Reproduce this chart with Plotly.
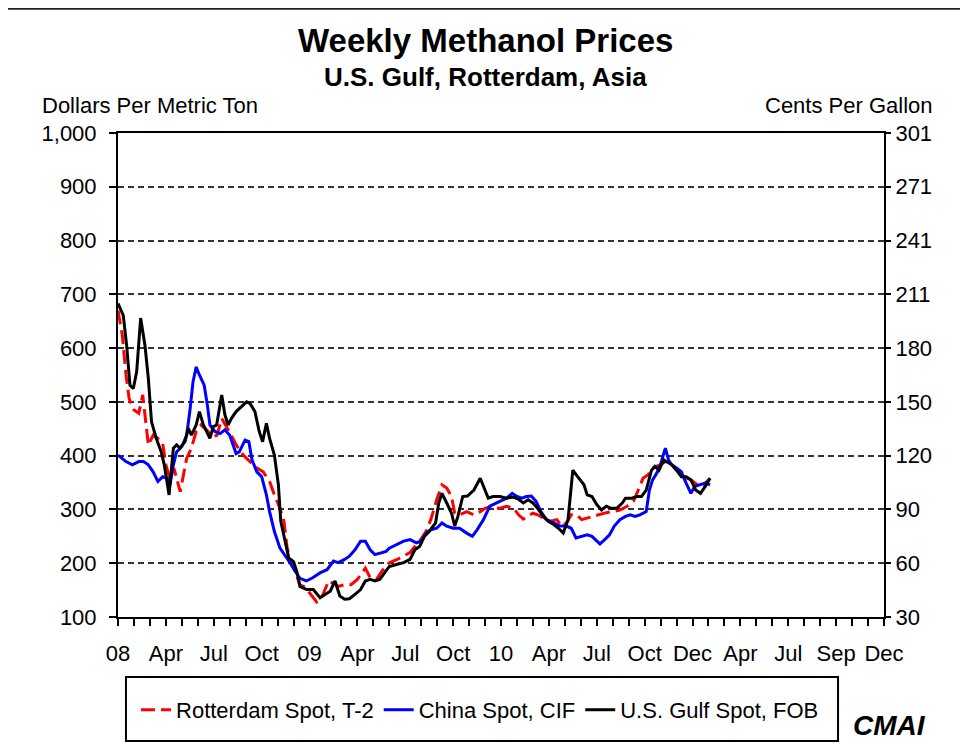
import plotly.graph_objects as go

# ---- Data (x = months since Jan 2008) ----
gulf_months = [0, 0.33, 0.54, 0.75, 0.96, 1.17, 1.42, 1.69, 1.9, 2.1, 2.4, 2.7, 2.9, 3.2, 3.47, 3.67, 3.88,
               4.2, 4.4, 4.6, 4.9, 5.1, 5.35, 5.55, 5.76, 5.97, 6.18, 6.5, 6.7, 6.9, 7.1, 7.4, 7.75, 8.06,
               8.27, 8.58, 8.85, 9.06, 9.3, 9.5, 9.8, 10.05, 10.2, 10.5, 10.7, 11.0, 11.2, 11.4, 11.82,
               12.24, 12.66, 12.97, 13.3, 13.6, 13.9, 14.2, 14.5, 14.85, 15.2, 15.5, 15.8, 16.1, 16.4,
               16.7, 17.0, 17.5, 17.9, 18.3, 18.6, 18.9, 19.2, 19.5, 19.9, 20.1, 20.3, 20.6, 20.9, 21.1,
               21.3, 21.6, 21.9, 22.3, 22.7, 22.9, 23.2, 23.5, 23.93, 24.35, 24.77, 25.1, 25.4, 25.7,
               26.0, 26.3, 26.65, 26.96, 27.3, 27.6, 27.9, 28.2, 28.5, 28.8, 29.2, 29.4, 29.7, 30.0,
               30.3, 30.6, 30.9, 31.25, 31.6, 31.8, 32.2, 32.5, 32.8, 33.1, 33.43, 33.65, 33.9, 34.2,
               34.4, 34.7, 35.0, 35.3, 35.6, 35.9, 36.2, 36.5, 36.8, 37.1]
gulf_values = [683, 661, 605, 531, 525, 556, 656, 605, 544, 463, 432, 408, 383, 327, 414, 420, 414,
               426, 451, 438, 457, 482, 457, 445, 432, 454, 457, 513, 476, 457, 469, 482, 491, 500,
               497, 482, 445, 426, 460, 432, 401, 346, 278, 234, 210, 203, 185, 157, 151,
               151, 136, 142, 148, 167, 139, 133, 134, 142, 151, 167, 170, 167, 170,
               182, 194, 198, 201, 207, 225, 231, 250, 259, 275, 312, 330, 312, 293, 269,
               287, 324, 325, 336, 358, 343, 321, 324, 324, 321, 323, 319, 312, 318,
               312, 302, 287, 278, 272, 265, 256, 281, 373, 361, 346, 327, 324, 309,
               299, 306, 302, 302, 312, 321, 321, 324, 324, 336, 373, 380, 373, 392,
               389, 383, 373, 361, 361, 355, 336, 330, 343, 358]

rotterdam_months = [0, 0.27, 0.5, 0.7, 1.0, 1.3, 1.55, 1.7, 1.9, 2.2, 2.5, 2.8, 3.0, 3.25, 3.5, 3.9, 4.1,
                    4.3, 4.6, 4.9, 5.2, 5.55, 5.9, 6.2, 6.5, 6.8, 7.1, 7.4, 7.85, 8.27, 8.7, 9.1, 9.5,
                    9.8, 10.15, 10.4, 10.6, 10.8, 11.1, 11.4, 11.8, 12.0, 12.45, 12.8, 13.2, 13.5, 13.8,
                    14.2, 14.6, 15.0, 15.5, 15.8, 16.2, 16.6, 17.0, 17.5, 17.9, 18.3, 18.6, 18.9, 19.3,
                    19.6, 19.97, 20.3, 20.6, 20.9, 21.1, 21.4, 21.85, 22.3, 22.7, 23.0, 23.4, 23.9,
                    24.35, 24.8, 25.1, 25.4, 25.7, 26.0, 26.3, 26.65, 27.1, 27.5, 27.8, 28.1, 28.4,
                    28.75, 29.05, 29.4, 29.8, 30.2, 30.6, 31.0, 31.45, 31.9, 32.3, 32.6, 32.9, 33.2,
                    33.5, 33.96, 34.3, 34.6, 35.0, 35.45, 35.9, 36.3, 36.7, 37.1]
rotterdam_values = [670, 624, 550, 506, 485, 479, 513, 469, 420, 438, 432, 423, 383, 358, 377, 333, 364,
                    395, 414, 445, 457, 448, 435, 438, 469, 454, 438, 420, 401, 389, 377, 370, 352,
                    327, 302, 278, 228, 203, 185, 160, 154, 145, 128, 139, 167, 162, 157,
                    160, 160, 170, 191, 173, 170, 188, 201, 207, 213, 220, 231, 241, 259,
                    281, 318, 346, 340, 324, 293, 290, 296, 290, 296, 302, 306, 302,
                    306, 302, 290, 282, 288, 293, 290, 284, 278, 281, 269, 275, 290,
                    290, 281, 284, 287, 290, 294, 296, 299, 306, 315, 336, 358, 364,
                    377, 383, 389, 386, 373, 361, 355, 346, 346, 358]

china_months = [0, 0.5, 0.9, 1.3, 1.6, 1.9, 2.2, 2.5, 2.8, 3.1, 3.26, 3.47, 3.67, 4.0, 4.3, 4.5, 4.7,
                4.9, 5.1, 5.4, 5.6, 5.76, 6.07, 6.4, 6.7, 7.0, 7.4, 7.6, 7.96, 8.2, 8.4, 8.7, 9.0,
                9.3, 9.5, 9.8, 10.15, 10.45, 10.8, 11.1, 11.4, 11.8, 12.2, 12.66, 13.1, 13.5, 13.8,
                14.2, 14.5, 14.85, 15.2, 15.5, 15.8, 16.1, 16.5, 16.8, 17.0, 17.5, 17.9, 18.3, 18.7,
                19.0, 19.3, 19.6, 19.97, 20.3, 20.6, 21.0, 21.4, 21.85, 22.2, 22.5, 22.9, 23.3, 23.7,
                24.1, 24.35, 24.7, 25.0, 25.3, 25.6, 25.9, 26.2, 26.5, 26.85, 27.3, 27.7, 28.1, 28.4,
                28.7, 29.05, 29.4, 29.7, 30.0, 30.2, 30.5, 30.8, 31.1, 31.45, 31.8, 32.1, 32.4, 32.7,
                33.1, 33.3, 33.5, 33.75, 33.96, 34.1, 34.3, 34.5, 34.7, 35.0, 35.3, 35.6, 35.9, 36.15,
                36.5, 36.8, 37.1]
china_values = [401, 389, 383, 389, 389, 383, 370, 352, 361, 358, 346, 383, 407, 417, 438, 482, 537,
                565, 550, 531, 494, 457, 445, 441, 448, 438, 404, 407, 429, 426, 392, 370, 361,
                327, 296, 259, 228, 216, 200, 185, 172, 167, 173, 182, 188, 204, 201,
                207, 213, 225, 241, 241, 225, 216, 219, 222, 228, 235, 241, 244, 238,
                241, 256, 262, 265, 275, 269, 265, 265, 256, 250, 262, 281, 306, 312,
                318, 321, 330, 324, 321, 324, 325, 315, 296, 281, 275, 269, 269, 265,
                247, 250, 253, 250, 241, 236, 244, 253, 269, 281, 287, 290, 287, 290,
                296, 336, 355, 367, 380, 395, 414, 392, 383, 377, 370, 349, 330, 343,
                346, 349, 346]

x_tick_months = [0, 3, 6, 9, 12, 15, 18, 21, 24, 27, 30, 33, 36, 39, 42, 45, 48]
x_tick_labels = ["08", "Apr", "Jul", "Oct", "09", "Apr", "Jul", "Oct", "10", "Apr", "Jul", "Oct",
                 "Dec", "Apr", "Jul", "Sep", "Dec"]
y_ticks = [100, 200, 300, 400, 500, 600, 700, 800, 900, 1000]
y_right_labels = ["30", "60", "90", "120", "150", "180", "211", "241", "271", "301"]

FONT = "Liberation Sans, Arial, sans-serif"
FS = 22

fig = go.Figure()
fig.add_trace(go.Scatter(x=rotterdam_months, y=rotterdam_values, mode="lines",
                         name="Rotterdam Spot, T-2",
                         line=dict(color="#ff0000", width=3, dash="14px,6px")))
fig.add_trace(go.Scatter(x=china_months, y=china_values, mode="lines",
                         name="China Spot, CIF",
                         line=dict(color="#0000ff", width=3)))
fig.add_trace(go.Scatter(x=gulf_months, y=gulf_values, mode="lines",
                         name="U.S. Gulf Spot, FOB",
                         line=dict(color="#000000", width=3)))
# invisible trace to activate right axis
fig.add_trace(go.Scatter(x=[0], y=[100], yaxis="y2", mode="markers",
                         marker=dict(opacity=0), showlegend=False, hoverinfo="skip"))

fig.update_layout(
    width=960, height=741,
    margin=dict(l=110, r=84, t=125, b=132, autoexpand=False),
    paper_bgcolor="white", plot_bgcolor="white",
    font=dict(family=FONT, size=FS, color="#000"),
    showlegend=True,
    legend=dict(orientation="h", x=0.4726, y=-0.192, xanchor="center", yanchor="middle",
                font=dict(size=FS, family=FONT), itemwidth=30,
                bgcolor="rgba(0,0,0,0)", borderwidth=0),
    xaxis=dict(range=[0, 48], tickmode="array", tickvals=x_tick_months, ticktext=x_tick_labels,
               ticks="outside", ticklen=7, tickwidth=1.5, tickcolor="#000",
               showline=True, linecolor="#000", linewidth=2, mirror=True,
               showgrid=False, zeroline=False, ticklabelstandoff=9,
               tickfont=dict(size=FS, family=FONT),
               minor=dict(tickmode="linear", tick0=0, dtick=1, ticks="outside", ticklen=7,
                          tickwidth=1.5, tickcolor="#000", showgrid=False)),
    yaxis=dict(range=[100, 1000], tickmode="array", tickvals=y_ticks, tickformat=",d",
               ticks="outside", ticklen=7, tickwidth=1.5, tickcolor="#000",
               showline=True, linecolor="#000", linewidth=2, mirror=True,
               showgrid=True, gridcolor="#333", gridwidth=1.5, griddash="6px,4px",
               zeroline=False, ticklabelstandoff=8,
               tickfont=dict(size=FS, family=FONT)),
    yaxis2=dict(range=[100, 1000], overlaying="y", side="right", tickmode="array",
                tickvals=y_ticks, ticktext=y_right_labels,
                ticks="outside", ticklen=6, tickwidth=1.5, tickcolor="#000",
                showgrid=False, zeroline=False, showline=False,
                tickfont=dict(size=FS, family=FONT)),
    annotations=[
        dict(text="<b>Weekly Methanol Prices</b>", xref="paper", yref="paper", x=0.4804, y=1.192,
             xanchor="center", yanchor="middle", showarrow=False,
             font=dict(size=33, family=FONT, color="#000")),
        dict(text="<b>U.S. Gulf, Rotterdam, Asia</b>", xref="paper", yref="paper", x=0.4804, y=1.1157,
             xanchor="center", yanchor="middle", showarrow=False,
             font=dict(size=26, family=FONT, color="#000")),
        dict(text="Dollars Per Metric Ton", xref="paper", yref="paper", x=-0.1018, y=1.0558,
             xanchor="left", yanchor="middle", showarrow=False,
             font=dict(size=FS, family=FONT, color="#000")),
        dict(text="Cents Per Gallon", xref="paper", yref="paper", x=1.0666, y=1.0558,
             xanchor="right", yanchor="middle", showarrow=False,
             font=dict(size=FS, family=FONT, color="#000")),
        dict(text="<b><i>CMAI</i></b>", xref="paper", yref="paper", x=1.0078, y=-0.225,
             xanchor="center", yanchor="middle", showarrow=False,
             font=dict(size=28, family=FONT, color="#000")),
    ],
    shapes=[
        dict(type="rect", xref="paper", yref="paper", x0=0.0104, x1=0.94, y0=-0.256, y1=-0.124,
             line=dict(color="#000", width=2), fillcolor="rgba(0,0,0,0)"),
        dict(type="rect", xref="paper", yref="paper", x0=-0.1475, x1=1.12, y0=-0.30, y1=1.258,
             line=dict(color="#222", width=3), fillcolor="rgba(0,0,0,0)"),
    ],
)

fig.write_html("out.html")
